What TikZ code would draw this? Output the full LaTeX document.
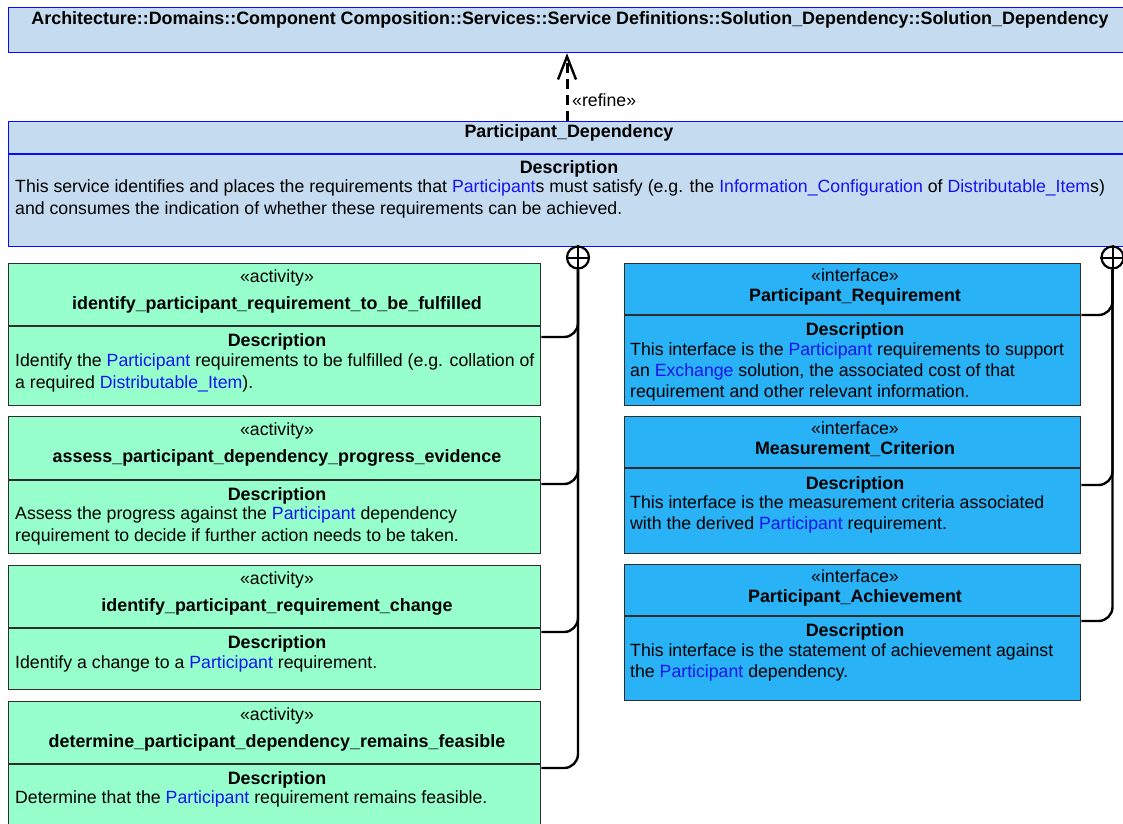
\documentclass[tikz,border=0pt]{standalone}
\usepackage{fontspec}
\setmainfont{Liberation Sans}
\usetikzlibrary{arrows.meta,calc}

\definecolor{pkgfill}{RGB}{197,220,240}
\definecolor{pkgedge}{RGB}{10,10,250}
\definecolor{actfill}{RGB}{150,255,204}
\definecolor{iffill}{RGB}{41,178,246}
\definecolor{boxedge}{RGB}{45,45,45}
\definecolor{linkblue}{RGB}{20,20,240}

\newcommand{\lnk}[1]{\textcolor{linkblue}{#1}}
\newcommand{\umlfont}{\fontsize{17.7}{20.7}\selectfont}
\newcommand{\umlboldfont}{\fontsize{17.9}{20.7}\selectfont\bfseries}

\begin{document}
\begin{tikzpicture}[x=1pt,y=-1pt,
  pkgbox/.style={draw=pkgedge, fill=pkgfill, line width=1.2pt, rectangle,
    inner sep=0pt, anchor=north west, minimum width=1123pt},
  actbox/.style={draw=boxedge, fill=actfill, line width=1.3pt, rectangle,
    inner sep=0pt, anchor=north west, minimum width=532pt},
  ifbox/.style={draw=boxedge, fill=iffill, line width=1.3pt, rectangle,
    inner sep=0pt, anchor=north west, minimum width=456pt},
  sepline/.style={draw=boxedge, line width=1.3pt},
  pkgsep/.style={draw=pkgedge, line width=1.2pt},
  title/.style={font=\umlboldfont, inner sep=0pt, anchor=base},
  stereo/.style={font=\umlfont, inner sep=0pt, anchor=base},
  body/.style={font=\umlfont, inner sep=0pt, anchor=base west},
  owner/.style={circle, draw=black, line width=2.2pt, minimum size=22pt, inner sep=0pt},
  nest/.style={draw=black, line width=2.4pt, rounded corners=14pt},
  refine/.style={draw=black, line width=3pt, dash pattern=on 10pt off 6pt,
    -{Straight Barb[length=23pt,width=18pt,line width=2.4pt]}}
]
\useasboundingbox (0,0) rectangle (1123,823);
\fill[white] (0,0) rectangle (1123,823);
\clip (0,0) rectangle (1123,823);

% ---------- packages ----------
\node[pkgbox, minimum height=45pt] (top) at (8,7) {};
\node[title] (toptitle) at (570,24)
  {Architecture::Domains::Component Composition::Services::Service Definitions::Solution\_Dependency::Solution\_Dependency};

\node[pkgbox, minimum height=125pt] (pd) at (8,121) {};
\draw[pkgsep] ($(pd.north west)+(0,33)$) -- ($(pd.north east)+(0,33)$);
\node[title] (pdname) at (569,137) {Participant\_Dependency};
\node[title] (pddesc) at (569,173) {Description};
\node[body] (pdl1) at (15,192) {This service identifies and places the requirements that \lnk{Participant}s must satisfy (e.g. the \lnk{Information\_Configuration} of \lnk{Distributable\_Item}s)};
\node[body] (pdl2) at (15,214) {and consumes the indication of whether these requirements can be achieved.};

% ---------- activities ----------
\node[actbox, minimum height=142pt] (g1) at (8,263) {};
\draw[sepline] ($(g1.north west)+(0,63)$) -- ($(g1.north east)+(0,63)$);
\node[stereo] (g1s) at (277,282) {«activity»};
\node[title] (g1n) at (277,309) {identify\_participant\_requirement\_to\_be\_fulfilled};
\node[title] (g1d) at (277,346) {Description};
\node[body] (g1l1) at (15,366) {Identify the \lnk{Participant} requirements to be fulfilled (e.g. collation of};
\node[body] (g1l2) at (15,388) {a required \lnk{Distributable\_Item}).};

\node[actbox, minimum height=137pt] (g2) at (8,416) {};
\draw[sepline] ($(g2.north west)+(0,64)$) -- ($(g2.north east)+(0,64)$);
\node[stereo] (g2s) at (277,435) {«activity»};
\node[title] (g2n) at (277,462) {assess\_participant\_dependency\_progress\_evidence};
\node[title] (g2d) at (277,500) {Description};
\node[body] (g2l1) at (15,519) {Assess the progress against the \lnk{Participant} dependency};
\node[body] (g2l2) at (15,541) {requirement to decide if further action needs to be taken.};

\node[actbox, minimum height=124pt] (g3) at (8,565) {};
\draw[sepline] ($(g3.north west)+(0,63)$) -- ($(g3.north east)+(0,63)$);
\node[stereo] (g3s) at (277,584) {«activity»};
\node[title] (g3n) at (277,611) {identify\_participant\_requirement\_change};
\node[title] (g3d) at (277,648) {Description};
\node[body] (g3l1) at (15,668) {Identify a change to a \lnk{Participant} requirement.};

\node[actbox, minimum height=140pt] (g4) at (8,701) {};
\draw[sepline] ($(g4.north west)+(0,63)$) -- ($(g4.north east)+(0,63)$);
\node[stereo] (g4s) at (277,720) {«activity»};
\node[title] (g4n) at (277,747) {determine\_participant\_dependency\_remains\_feasible};
\node[title] (g4d) at (277,784) {Description};
\node[body] (g4l1) at (15,803) {Determine that the \lnk{Participant} requirement remains feasible.};

% ---------- interfaces ----------
\node[ifbox, minimum height=142pt] (i1) at (624,263) {};
\draw[sepline] ($(i1.north west)+(0,52)$) -- ($(i1.north east)+(0,52)$);
\node[stereo] (i1s) at (855,281) {«interface»};
\node[title] (i1n) at (855,301) {Participant\_Requirement};
\node[title] (i1d) at (855,335) {Description};
\node[body] (i1l1) at (630,355) {This interface is the \lnk{Participant} requirements to support};
\node[body] (i1l2) at (630,376) {an \lnk{Exchange} solution, the associated cost of that};
\node[body] (i1l3) at (630,397) {requirement and other relevant information.};

\node[ifbox, minimum height=137pt] (i2) at (624,416) {};
\draw[sepline] ($(i2.north west)+(0,52)$) -- ($(i2.north east)+(0,52)$);
\node[stereo] (i2s) at (855,434) {«interface»};
\node[title] (i2n) at (855,454) {Measurement\_Criterion};
\node[title] (i2d) at (855,489) {Description};
\node[body] (i2l1) at (630,508) {This interface is the measurement criteria associated};
\node[body] (i2l2) at (630,529) {with the derived \lnk{Participant} requirement.};

\node[ifbox, minimum height=136pt] (i3) at (624,564) {};
\draw[sepline] ($(i3.north west)+(0,52)$) -- ($(i3.north east)+(0,52)$);
\node[stereo] (i3s) at (855,582) {«interface»};
\node[title] (i3n) at (855,602) {Participant\_Achievement};
\node[title] (i3d) at (855,636) {Description};
\node[body] (i3l1) at (630,656) {This interface is the statement of achievement against};
\node[body] (i3l2) at (630,677) {the \lnk{Participant} dependency.};

% ---------- refinement ----------
\coordinate (rfFrom) at ($(pd.north west)+(559,0)$);
\coordinate (rfTo) at ($(top.south west)+(559,0)$);
\draw[refine] (rfFrom) -- (rfTo);
\node[body] (rflabel) at (572,106) {«refine»};

% ---------- nesting connectors ----------
\node[owner] (ownL) at (578,257.5) {};
\draw[line width=2pt] (ownL.north) -- (ownL.south) (ownL.west) -- (ownL.east);
\node[owner] (ownR) at (1112.5,257.5) {};
\draw[line width=2pt] (ownR.north) -- (ownR.south) (ownR.west) -- (ownR.east);

\coordinate (g1p) at ($(g1.north east)+(0,74)$);
\coordinate (g2p) at ($(g2.north east)+(0,68)$);
\coordinate (g3p) at ($(g3.north east)+(0,67)$);
\coordinate (g4p) at ($(g4.north east)+(0,67)$);
\coordinate (i1p) at ($(i1.north east)+(0,52)$);
\coordinate (i2p) at ($(i2.north east)+(0,69)$);
\coordinate (i3p) at ($(i3.north east)+(0,57)$);

\draw[nest] (ownL.south) |- (g1p);
\draw[nest] (ownL.south) |- (g2p);
\draw[nest] (ownL.south) |- (g3p);
\draw[nest] (ownL.south) |- (g4p);
\draw[nest] (ownR.south) |- (i1p);
\draw[nest] (ownR.south) |- (i2p);
\draw[nest] (ownR.south) |- (i3p);
\end{tikzpicture}
\end{document}
